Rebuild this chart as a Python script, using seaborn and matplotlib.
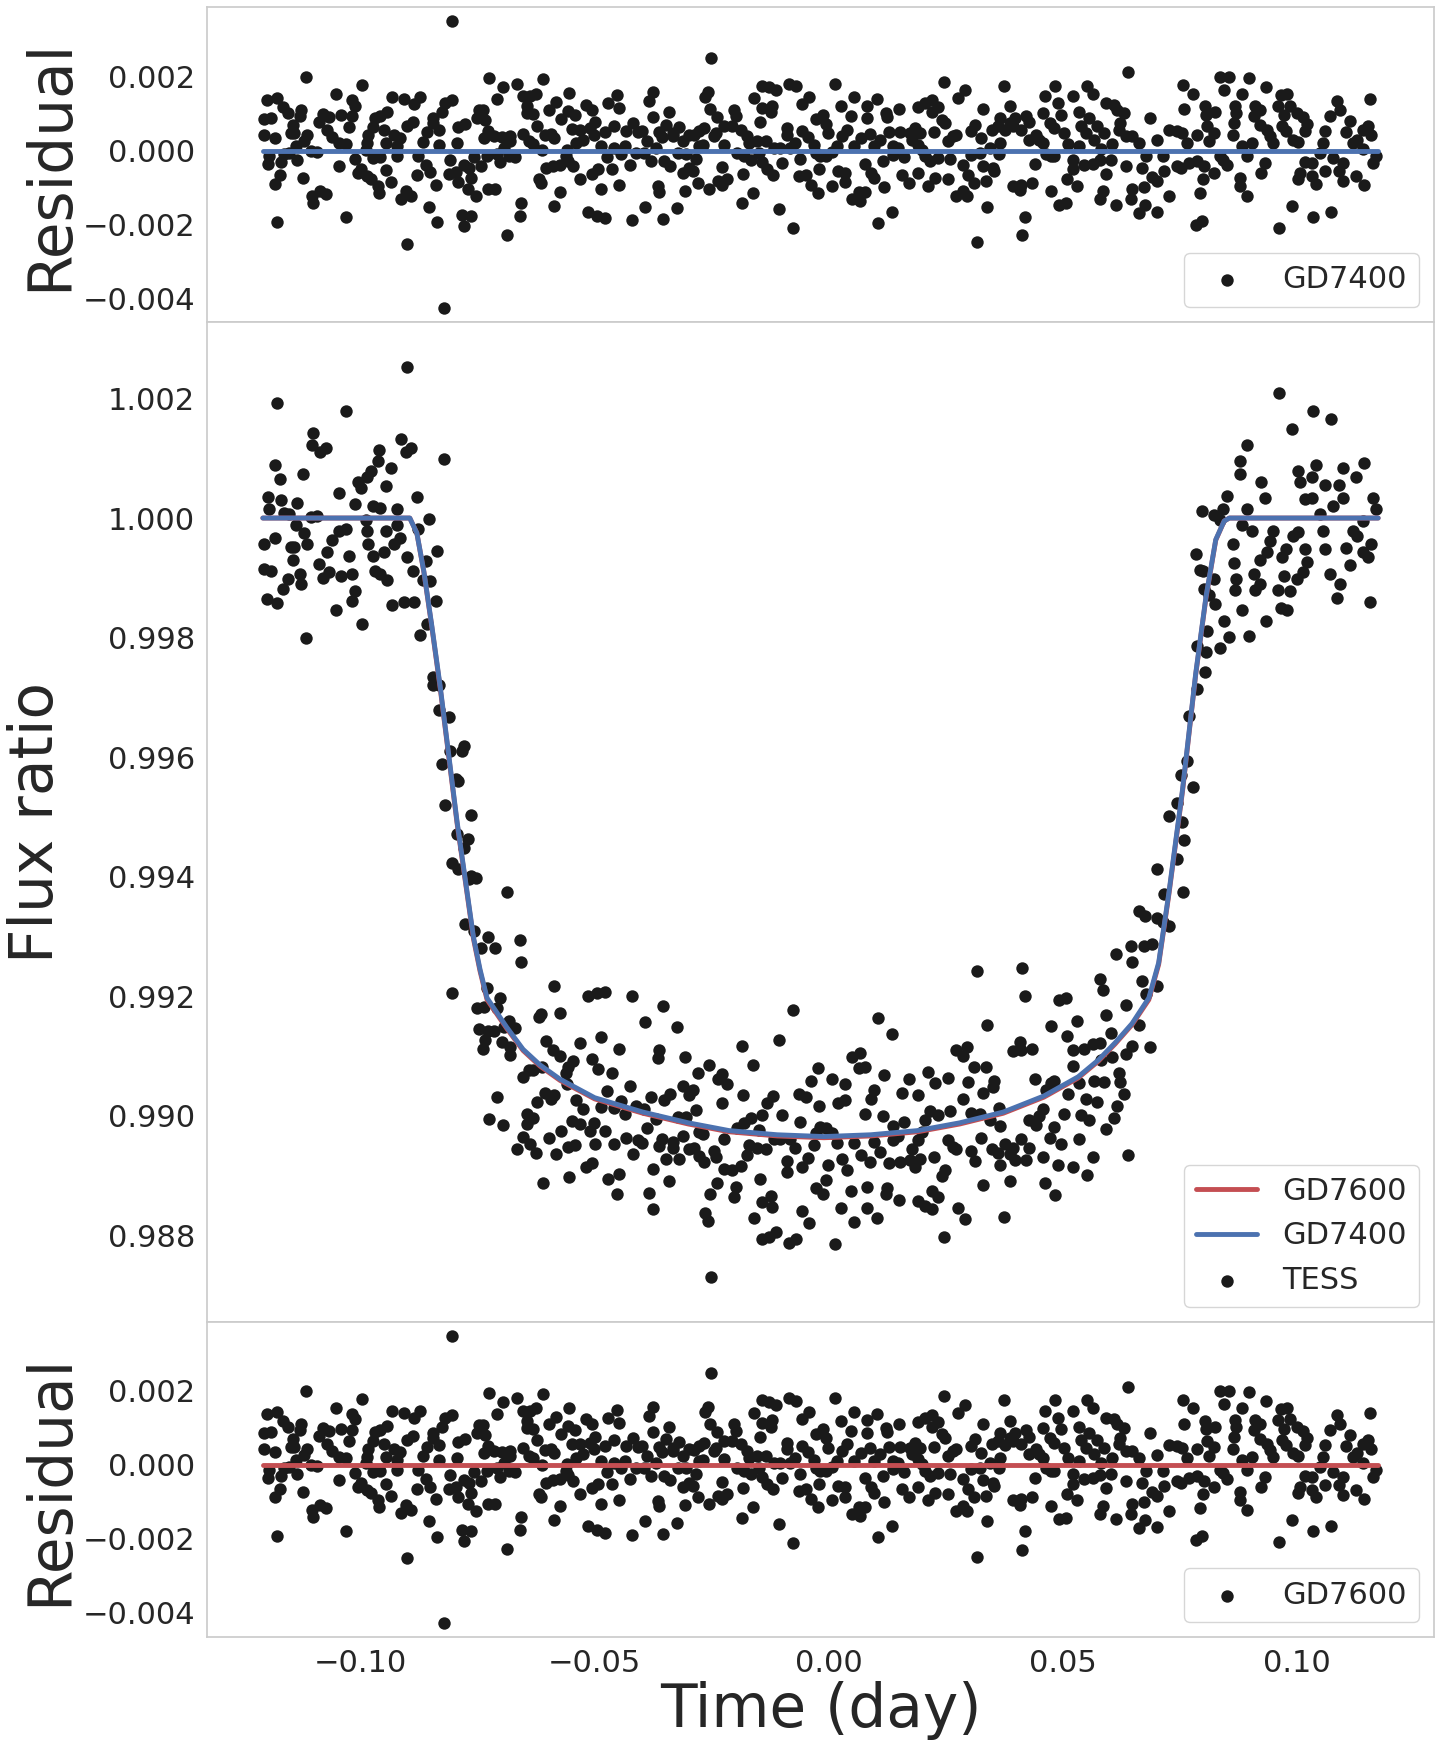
"""
TESS transit light curve with GD7400 / GD7600 model fits and residuals.
Values were read off the reference figure by eye.
"""

import numpy as np
import matplotlib
matplotlib.use("Agg")
import matplotlib.pyplot as plt
import seaborn as sns

# ---------------------------------------------------------
# 1. Data (time in milli-day, residual in parts per thousand)
# ---------------------------------------------------------
time_mday = [
    # -0.121 .. -0.072
    -120.0, -117.9, -120.6, -119.2, -120.6, -118.4, -116.5, -115.6, -119.5, -119.7,
    -117.0, -117.2, -118.3, -117.9, -111.6, -112.8, -112.9, -114.4, -114.9, -114.2,
    -111.5, -112.2, -113.8, -115.3, -116.3, -113.6, -112.3, -110.6, -109.4, -110.3,
    -108.7, -107.5, -110.2, -108.9, -108.0, -106.7, -107.2, -106.2, -104.6, -103.1,
    -105.3, -104.1, -101.8, -101.2, -101.9, -102.5, -99.7, -104.6, -101.2, -100.6,
    -99.9, -98.7, -97.7, -96.3, -96.1, -103.1, -97.0, -95.8, -94.3, -97.3,
    -95.0, -98.4, -98.7, -98.9, -97.3, -95.8, -94.6, -92.9, -91.6, -92.2,
    -94.6, -93.5, -92.2, -93.3, -90.8, -88.7, -87.4, -90.1, -88.8, -85.8,
    -86.7, -87.8, -87.9, -86.1, -85.1, -83.9, -83.3, -84.6, -84.6, -83.3,
    -82.6, -81.9, -80.5, -91.4, -90.4, -89.2, -85.3, -83.6, -90.2, -82.3,
    -80.4, -79.4, -79.1, -77.6, -80.9, -81.2, -79.6, -79.1, -77.9, -76.8,
    -76.4, -77.0, -75.3, -75.7, -74.3, -73.1, -74.8, -73.8, -75.1, -73.4,
    -73.6, -72.7, -72.5, -72.7, -78.4, -76.4, -78.0,
    # -0.072 .. -0.021
    -69.5, -70.8, -66.7, -65.4, -63.8, -62.6, -61.0, -64.5, -64.5, -63.1,
    -62.4, -65.3, -64.0, -63.1, -71.6, -69.9, -68.1, -68.1, -69.4, -70.9,
    -70.2, -68.4, -67.0, -71.3, -65.8, -66.0, -68.7, -61.3, -61.9, -61.5,
    -60.3, -58.9, -57.5, -56.2, -55.7, -54.6, -57.5, -58.7, -59.7, -58.3,
    -60.6, -59.4, -58.7, -57.1, -55.5, -55.6, -54.2, -54.9, -56.0, -53.9,
    -52.5, -53.2, -51.9, -50.6, -49.9, -50.2, -51.1, -53.2, -51.4, -49.5,
    -47.7, -50.5, -49.2, -48.6, -47.2, -45.3, -44.7, -45.9, -47.9, -48.6,
    -47.4, -46.3, -44.8, -45.8, -44.3, -43.6, -43.3, -41.9, -40.8, -39.9,
    -42.4, -41.2, -39.4, -38.9, -38.0, -42.1, -39.2, -38.3, -37.5, -37.6,
    -36.2, -35.6, -36.8, -36.5, -36.2, -34.1, -34.8, -33.2, -31.9, -33.3,
    -35.1, -33.9, -35.3, -32.5, -30.8, -32.1, -30.5, -31.2, -29.8, -28.7,
    -27.7, -26.6, -28.4, -31.2, -29.9, -29.0, -28.0, -25.6, -27.7, -26.8,
    -26.4, -25.7, -25.1, -25.4, -23.8, -24.5, -24.1, -22.4, -22.4, -22.7,
    -23.6, -22.9, -21.7,
    # -0.021 .. 0.029
    -20.2, -19.9, -20.6, -18.8, -17.4, -17.0, -19.5, -18.1, -16.7, -14.9,
    -14.3, -18.3, -18.6, -16.1, -16.0, -14.2, -12.8, -11.2, -14.2, -12.1,
    -12.4, -14.7, -15.3, -13.5, -11.7, -10.3, -13.1, -11.9, -9.9, -10.6,
    -7.6, -8.9, -8.9, -7.2, -8.2, -8.5, -7.0, -5.7, -4.3, -5.7,
    -4.4, -3.2, -6.2, -6.4, -4.8, -3.7, -2.3, -2.1, -2.8, -1.3,
    -0.6, -0.1, -2.8, -1.8, -0.6, 0.7, 1.8, 1.3, 2.6, 4.8,
    5.3, 3.9, 2.8, 5.3, 0.6, 2.0, 3.4, 3.5, 5.0, 6.7,
    6.4, 7.7, 7.7, 9.1, 9.6, 7.0, 8.2, 8.2, 8.9, 9.6,
    11.0, 10.3, 12.3, 12.4, 11.5, 11.8, 10.5, 13.6, 12.8, 13.8,
    13.8, 15.2, 14.9, 16.0, 15.1, 15.7, 17.2, 17.4, 18.4, 19.5,
    17.7, 19.0, 20.0, 20.6, 21.6, 19.1, 20.6, 22.0, 23.4, 22.0,
    22.5, 24.2, 24.8, 23.4, 19.1, 21.3, 22.7, 25.5, 24.7, 26.0,
    25.4, 26.6, 27.3, 29.1, 27.7, 27.1, 28.7,
    # 0.029 .. 0.081
    28.7, 29.8, 29.6, 31.1, 31.6, 31.2, 30.4, 32.6, 33.0, 30.5,
    32.3, 34.4, 33.0, 33.7, 35.1, 35.3, 33.9, 34.8, 36.2, 36.7,
    36.5, 36.4, 37.4, 38.7, 37.6, 38.7, 39.7, 39.4, 41.1, 42.2,
    42.9, 42.9, 44.3, 45.0, 45.7, 39.4, 41.0, 40.8, 43.4, 44.1,
    42.0, 41.3, 47.5, 46.2, 48.4, 48.9, 49.6, 48.2, 47.2, 45.7,
    50.2, 46.5, 47.5, 48.2, 51.1, 52.3, 53.4, 53.9, 55.0, 55.7,
    52.1, 52.1, 50.9, 53.0, 49.3, 50.7, 53.5, 55.1, 56.4, 57.3,
    58.9, 56.7, 58.2, 54.5, 56.4, 58.0, 60.3, 60.6, 59.2, 58.6,
    58.0, 61.4, 59.2, 61.0, 61.7, 63.1, 62.3, 62.0, 63.5, 64.9,
    66.3, 63.5, 64.0, 66.9, 67.7, 64.7, 64.5, 67.4, 67.6, 66.3,
    68.6, 70.2, 71.5, 69.1, 70.2, 71.6, 72.8, 70.2, 72.7, 74.5,
    75.5, 76.6, 78.7, 74.5, 75.2, 76.9, 78.7, 80.1, 80.0, 79.4,
    75.7, 77.9, 76.0, 78.4, 79.8, 80.5, 80.7, 80.8,
    # 0.081 .. 0.117
    82.6, 82.3, 81.2, 82.3, 84.4, 83.7, 85.5, 84.3, 85.2, 83.7,
    86.4, 86.7, 86.9, 87.1, 88.3, 89.8, 88.3, 89.4, 90.4, 87.8,
    87.8, 89.4, 91.1, 92.2, 90.8, 92.2, 93.6, 93.5, 94.3, 95.0,
    93.3, 92.4, 96.1, 96.6, 98.0, 97.3, 98.6, 96.8, 97.7, 99.1,
    100.3, 100.0, 101.4, 102.1, 101.8, 101.8, 103.2, 100.7, 100.3, 103.2,
    104.2, 98.9, 103.4, 107.3, 96.2, 106.0, 105.7, 105.0, 107.7, 106.0,
    107.1, 108.5, 109.2, 111.3, 110.6, 112.0, 112.8, 114.2, 115.2, 115.9,
    115.6, 109.9, 109.1, 109.8, 112.6, 114.4, 114.2, 117.0, 116.3,
]

# residual = GD7400 model - TESS flux
resid_ppt = [
    1.36, 1.42, 0.86, 0.89, 0.43, 0.34, 1.18, 1.02, -0.15, -0.35,
    -0.31, -0.65, -0.89, -1.93, 2.00, 1.11, 0.93, 0.70, 0.48, 0.48,
    0.43, 0.25, 0.12, -0.06, -0.09, -0.25, -0.74, -0.02, -0.04, -1.23,
    -1.10, -1.17, -1.43, 0.77, 1.00, 0.90, 0.57, 0.37, 0.21, 0.19,
    1.54, 0.97, 1.38, 1.22, 0.93, 0.63, 1.77, -0.42, -0.23, -0.60,
    -0.51, -0.69, -0.78, -0.96, -1.14, -1.79, 0.88, 0.93, 1.04, 0.63,
    0.57, 0.43, 0.21, 0.03, -0.20, -0.17, 0.21, 0.43, 0.34, 0.12,
    -0.53, -0.84, -0.15, 1.45, 1.40, 1.27, 1.45, 0.66, 0.77, 0.50,
    0.23, -0.15, -0.65, -0.38, -0.59, -0.92, 0.14, 0.88, 0.75, 0.57,
    1.04, 1.29, 1.38, -1.32, -1.10, -1.22, -1.52, -1.93, -2.52, -4.25,
    3.50, 0.21, 0.63, 0.73, -0.24, -0.62, -0.59, -0.84, -0.38, -0.47,
    -0.74, -1.03, -1.22, -0.17, -0.42, -0.14, 1.11, 1.11, 0.88, 0.84,
    0.34, 0.52, 1.96, -1.05, -1.73, -1.76, -2.03,
    #
    1.72, 1.40, 1.81, 1.47, 1.47, 1.54, 1.94, 1.20, 1.02, 0.99,
    0.68, 0.46, 0.25, 0.19, 0.39, 0.37, 0.39, 0.25, 0.07, -0.08,
    -0.32, -0.15, -0.17, -1.04, -1.41, -1.76, -2.27, 0.01, -0.78, -0.87,
    -0.47, -0.41, -0.38, -0.15, -0.27, -0.42, -1.11, -1.49, 1.11, 1.31,
    0.41, 0.45, 0.34, 0.86, 1.56, 1.06, 0.96, 0.59, 0.03, 0.21,
    0.30, 0.57, 1.24, 1.11, 0.77, 0.43, 0.61, -0.78, -1.65, -1.76,
    -1.82, -0.62, -0.50, -1.05, 1.29, 1.51, 1.15, 0.68, 0.51, 0.12,
    -0.17, -0.50, -0.93, 0.07, -0.08, 0.12, 0.52, 0.75, 0.50, 0.52,
    -0.38, -0.06, -0.06, 0.25, -0.29, -1.89, -1.52, 1.33, 1.58, 0.91,
    0.50, 0.37, 0.07, -0.96, -1.11, 1.05, 0.70, 0.48, 0.64, 0.39,
    -0.29, -0.41, -1.85, -1.55, -1.08, -0.06, -0.08, 0.25, 0.43, 0.41,
    0.52, 0.61, -0.23, -0.60, -0.47, -0.56, -0.87, -1.04, 0.12, 0.14,
    1.45, 1.58, 2.50, 1.13, 0.91, 0.39, 0.48, 0.66, 0.16, -0.44,
    -0.83, -0.92, -0.78,
    #
    1.11, 0.93, 0.66, 0.57, 0.39, 0.21, -0.06, -0.15, -0.24, -0.06,
    -0.31, -0.62, -1.43, -1.14, 1.42, 1.76, 1.72, 1.63, 1.15, 1.22,
    1.04, 0.77, 0.25, 0.25, 0.07, 0.07, -0.51, -0.65, -0.33, -1.58,
    -2.09, 0.61, 0.43, 0.21, 0.07, 1.81, 1.74, 1.26, 1.45, 0.52,
    0.37, 0.14, -0.23, -0.69, -0.65, -0.92, -1.14, -0.50, 0.86, 0.97,
    0.73, 0.48, -0.06, -0.15, -0.15, -0.05, 0.12, 1.81, 1.20, 0.93,
    1.45, 0.57, 0.39, 0.12, -0.95, -0.56, -0.60, -0.86, -1.32, -1.37,
    -1.13, -1.13, -0.35, -0.60, -0.74, 0.34, 1.22, 0.88, 0.46, 0.12,
    0.30, 1.40, 1.02, 0.91, -0.29, -0.98, -1.95, -1.65, 0.50, 0.12,
    -0.11, 0.50, 0.07, -0.17, 1.13, -0.65, -0.87, 0.48, 0.61, 0.48,
    0.30, 0.16, 0.03, -0.15, -0.29, 1.18, 1.29, 1.36, 1.18, 1.05,
    0.50, 0.84, 0.75, -0.20, -0.60, -0.95, -0.74, -0.78, 1.87, -0.23,
    0.25, 0.39, 0.43, 1.63, 1.42, -1.23, -1.10,
    #
    -0.38, -0.65, -1.23, -0.87, -2.47, 0.70, 0.52, 0.34, 1.13, -0.11,
    -0.06, 0.07, -0.41, -0.83, -0.47, -0.56, -1.52, 0.57, 0.66, 0.88,
    0.21, -0.08, 1.76, 1.20, 0.55, 0.75, 0.88, 0.66, 0.57, 0.95,
    0.77, 0.30, 0.43, 0.30, 0.21, -0.95, -0.92, -1.07, -0.87, -0.35,
    -1.79, -2.28, -1.10, 1.47, 1.76, 1.29, 0.97, 0.61, 0.75, 1.02,
    0.48, -0.08, -0.15, -0.15, 0.19, 1.47, 1.04, 0.68, 0.48, 0.88,
    -0.24, -0.50, -0.78, -0.95, -1.46, -1.43, 0.12, 1.76, 1.54, 0.68,
    0.48, 0.30, 0.05, -0.38, -0.35, -0.26, -0.24, 0.19, -0.62, -1.10,
    -1.32, -1.46, 1.29, 1.24, 1.11, 1.02, 0.75, 0.57, 0.39, 0.39,
    0.21, -0.42, 2.13, -0.47, -0.15, -1.04, -1.32, -0.98, -1.46, -1.70,
    0.88, 0.30, -0.15, -0.71, -0.83, -0.56, -1.22, -1.65, 0.57, 0.52,
    0.48, 0.21, 0.43, -0.42, -0.47, -0.33, -0.29, -0.42, -0.78, -1.16,
    1.78, 1.54, 1.13, -2.01, -1.91, 1.20, 0.97, 0.66,
    #
    1.04, 0.48, 0.25, -0.60, 1.65, 1.99, 1.99, -0.24, -0.38, -0.15,
    0.43, 0.75, 1.20, 1.02, 1.54, 1.97, 0.12, -0.15, 0.21, -0.74,
    -0.96, -1.22, 1.20, 1.11, 0.93, 0.70, 0.57, 1.72, 0.39, 0.21,
    -0.33, -0.60, 1.20, 1.51, 1.54, 0.97, 1.22, 0.66, 0.52, 0.30,
    0.23, 1.02, 0.91, 0.73, 0.52, -0.32, -0.33, -0.60, -0.78, -0.69,
    -0.89, -1.49, -1.79, -1.65, -2.09, 0.52, 0.21, -0.06, -0.20, -0.56,
    0.93, 1.33, 1.11, 0.79, 0.50, 0.21, 0.30, 0.57, 0.66, 0.43,
    1.40, -0.33, -0.56, -0.83, -0.68, -0.92, 0.05, -0.15, -0.33,
]

# model curves, read at a set of knots (milli-day)
model_time_mday = [
    -120.9, -89.5, -88.0, -86.5, -84.8, -83.0, -81.2, -79.4, -77.6, -75.9,
    -74.5, -73.0, -68.8, -65.3, -61.7, -57.4, -50.0, -39.7, -30.0, -21.3,
    -11.0, -1.0, 9.0, 19.0, 28.0, 37.3, 46.0, 53.3, 57.6, 61.2,
    64.8, 68.4, 70.5, 72.7, 75.6, 78.4, 80.6, 82.7, 84.5, 85.6,
    117.4,
]
gd7400_flux = [
    1.00000, 1.00000, 0.99975, 0.99911, 0.99820, 0.99718, 0.99605, 0.99492, 0.99393, 0.99299,
    0.99245, 0.99197, 0.99148, 0.99111, 0.99085, 0.99061, 0.99030, 0.99006, 0.98988, 0.98975,
    0.98968, 0.98965, 0.98968, 0.98975, 0.98988, 0.99006, 0.99033, 0.99065, 0.99093, 0.99122,
    0.99154, 0.99197, 0.99256, 0.99374, 0.99546, 0.99739, 0.99868, 0.99964, 0.99995, 1.00000,
    1.00000,
]
gd7600_flux = [
    1.00000, 1.00000, 0.99975, 0.99910, 0.99818, 0.99715, 0.99602, 0.99489, 0.99390, 0.99296,
    0.99242, 0.99194, 0.99146, 0.99109, 0.99083, 0.99059, 0.99028, 0.99004, 0.98986, 0.98973,
    0.98966, 0.98963, 0.98966, 0.98973, 0.98986, 0.99004, 0.99031, 0.99063, 0.99091, 0.99120,
    0.99152, 0.99194, 0.99253, 0.99371, 0.99543, 0.99737, 0.99866, 0.99963, 0.99995, 1.00000,
    1.00000,
]

# ---------------------------------------------------------
# 2. Derived series
# ---------------------------------------------------------
n = min(len(time_mday), len(resid_ppt))
t = np.array(time_mday[:n]) / 1000.0
r = np.array(resid_ppt[:n]) / 1000.0
mt = np.array(model_time_mday) / 1000.0
m74 = np.array(gd7400_flux)
m76 = np.array(gd7600_flux)

flux = np.interp(t, mt, m74) - r          # TESS flux ratio
res74 = np.interp(t, mt, m74) - flux
res76 = np.interp(t, mt, m76) - flux

# ---------------------------------------------------------
# 3. Plot
# ---------------------------------------------------------
sns.set_theme(style="whitegrid", color_codes=True)

fig, (ax_top, ax_mid, ax_bot) = plt.subplots(
    3, 1, figsize=(14.41, 17.46), dpi=100, sharex=True,
    gridspec_kw={"height_ratios": [315, 1000, 315], "hspace": 0},
)
fig.subplots_adjust(left=0.1437, right=0.9951, top=0.996, bottom=0.0624)

dot_kw = dict(color="k", s=80, linewidth=0)
lw = 3.5
tick_fs = 22
label_fs = 43

# top: GD7400 residuals
sns.scatterplot(x=t, y=res74, ax=ax_top, label="GD7400", **dot_kw)
sns.lineplot(x=mt, y=np.zeros_like(mt), ax=ax_top, color="b", linewidth=lw)

# middle: light curve + models
sns.lineplot(x=mt, y=m76, ax=ax_mid, color="r", linewidth=lw, label="GD7600")
sns.lineplot(x=mt, y=m74, ax=ax_mid, color="b", linewidth=lw, label="GD7400")
sns.scatterplot(x=t, y=flux, ax=ax_mid, label="TESS", **dot_kw)

# bottom: GD7600 residuals
sns.scatterplot(x=t, y=res76, ax=ax_bot, label="GD7600", **dot_kw)
sns.lineplot(x=mt, y=np.zeros_like(mt), ax=ax_bot, color="r", linewidth=lw)

for ax in (ax_top, ax_mid, ax_bot):
    ax.grid(False)
    ax.tick_params(labelsize=tick_fs, length=0, pad=8.5)
    ax.legend(loc="lower right", fontsize=tick_fs)

ax_mid.ticklabel_format(axis="y", useOffset=False)

ax_top.set_ylabel("Residual", fontsize=label_fs)
ax_mid.set_ylabel("Flux ratio", fontsize=label_fs)
ax_bot.set_ylabel("Residual", fontsize=label_fs)
ax_bot.set_xlabel("Time (day)", fontsize=label_fs, labelpad=2)

ax_top.yaxis.set_label_coords(-0.1035, 0.5)
ax_mid.yaxis.set_label_coords(-0.115, 0.5)
ax_bot.yaxis.set_label_coords(-0.1035, 0.5)

fig.savefig("out.png", dpi=100)
plt.close(fig)
